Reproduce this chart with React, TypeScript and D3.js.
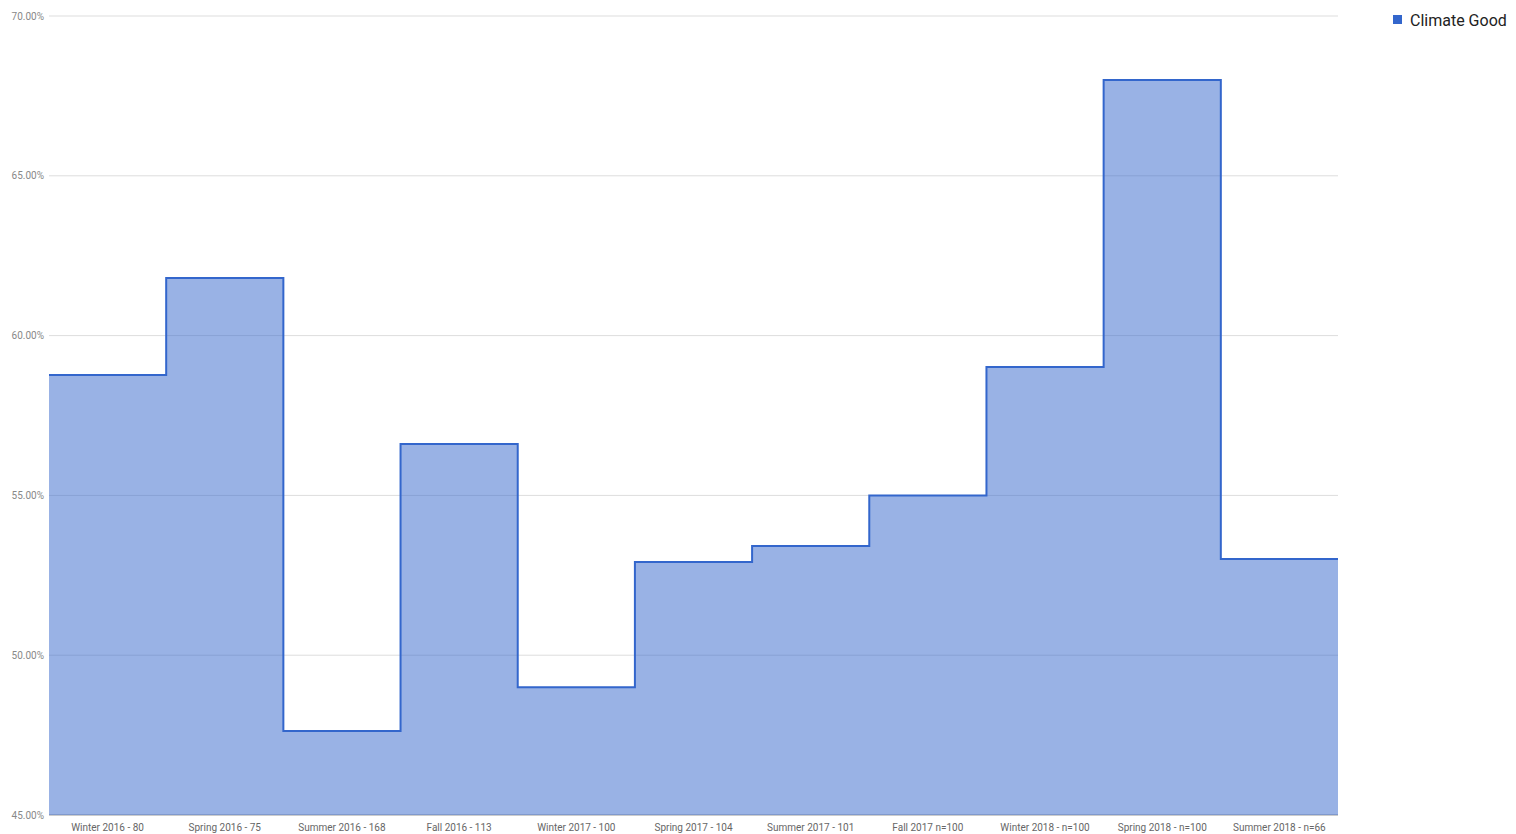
import React from 'react'
import * as d3 from 'd3'

const categories = [
  'Winter 2016 - 80',
  'Spring 2016 - 75',
  'Summer 2016 - 168',
  'Fall 2016 - 113',
  'Winter 2017 - 100',
  'Spring 2017 - 104',
  'Summer 2017 - 101',
  'Fall 2017 n=100',
  'Winter 2018 - n=100',
  'Spring 2018 - n=100',
  'Summer 2018 - n=66',
]
const climateGood = [58.77, 61.8, 47.63, 56.61, 49.0, 52.92, 53.42, 55.0, 59.02, 68.0, 53.01]
const yTicks = [45, 50, 55, 60, 65, 70]

const W = 1516
const H = 834
const margin = { top: 16, right: 178, bottom: 19, left: 49 }

export default function App() {
  const x = d3
    .scaleBand<string>()
    .domain(categories)
    .range([margin.left, W - margin.right])
    .padding(0)
  const y = d3.scaleLinear().domain([45, 70]).range([H - margin.bottom, margin.top])

  // step points: band start for each category, plus the band end of the last one
  const pts: [number, number][] = categories.map((c, i) => [x(c) as number, climateGood[i]])
  pts.push([x.range()[1], climateGood[climateGood.length - 1]])

  const area = d3
    .area<[number, number]>()
    .x((d) => d[0])
    .y0(y(45))
    .y1((d) => y(d[1]))
    .curve(d3.curveStepAfter)
  const line = d3
    .line<[number, number]>()
    .x((d) => d[0])
    .y((d) => y(d[1]))
    .curve(d3.curveStepAfter)

  return (
    <svg
      width={W}
      height={H}
      style={{ position: 'absolute', left: 0, top: 0, fontFamily: 'Roboto, sans-serif' }}
    >
      <rect width={W} height={H} fill="#fff" />
      {yTicks.map((t) => (
        <g key={t}>
          <line
            x1={margin.left}
            x2={W - margin.right}
            y1={y(t)}
            y2={y(t)}
            stroke={t === 45 ? '#999' : '#ddd'}
            strokeWidth={1}
          />
          <text x={44} y={y(t)} dy="0.35em" textAnchor="end" fontSize={10} fill="#888">
            {t.toFixed(2) + '%'}
          </text>
        </g>
      ))}
      <path d={area(pts) ?? ''} fill="#3366cc" fillOpacity={0.5} />
      <path d={line(pts) ?? ''} fill="none" stroke="#3366cc" strokeWidth={2} />
      {categories.map((c) => (
        <text
          key={c}
          x={(x(c) as number) + x.bandwidth() / 2}
          y={827}
          dy="0.35em"
          textAnchor="middle"
          fontSize={10}
          fill="#666"
        >
          {c}
        </text>
      ))}
      <rect x={1393} y={15} width={9} height={9} fill="#3366cc" />
      <text x={1410} y={20} dy="0.35em" fontSize={16} fill="#222">
        Climate Good
      </text>
    </svg>
  )
}
